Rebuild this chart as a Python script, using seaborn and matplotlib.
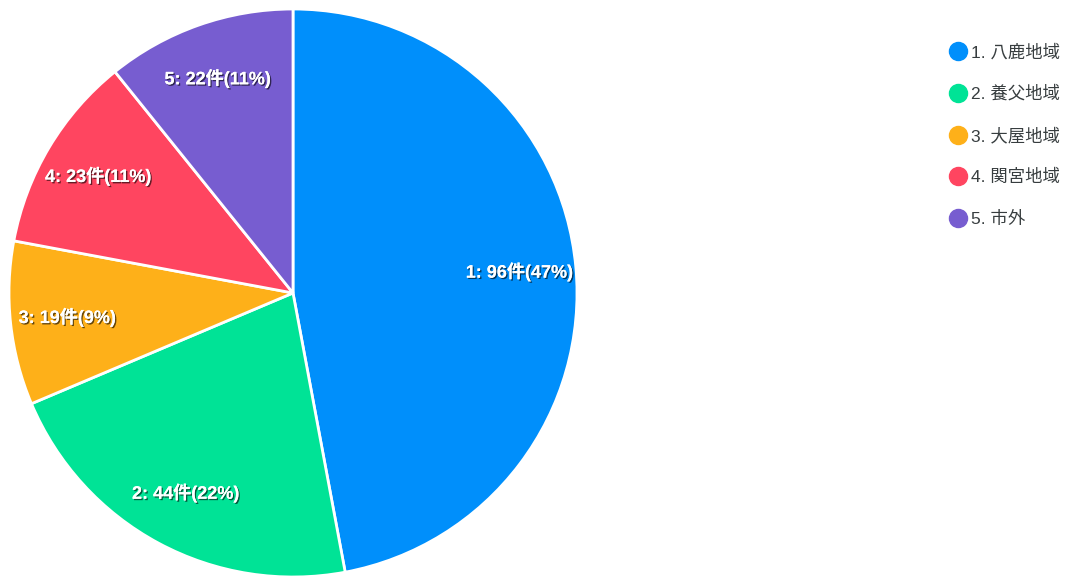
import matplotlib
matplotlib.use("Agg")
import matplotlib.pyplot as plt
import matplotlib.patheffects as pe
from matplotlib.lines import Line2D
import seaborn as sns

categories = ["1. 八鹿地域", "2. 養父地域", "3. 大屋地域", "4. 関宮地域", "5. 市外"]
counts = [96, 44, 19, 23, 22]
colors = ["#008FFB", "#00E396", "#FEB019", "#FF4560", "#775DD0"]

sns.set_theme(style="white")
plt.rcParams['font.family'] = ['Liberation Sans', 'Noto Sans CJK JP', 'DejaVu Sans']

total = sum(counts)
slice_labels = [f"{i + 1}: {c}件({round(c / total * 100)}%)" for i, c in enumerate(counts)]

fig = plt.figure(figsize=(10.74, 5.76), dpi=100)
ax = fig.add_axes([9 / 1074, -1 / 576, 568 / 1074, 568 / 576])

wedges, texts = ax.pie(counts, colors=sns.color_palette(colors), startangle=90,
                       counterclock=False, labels=slice_labels, labeldistance=0.80,
                       wedgeprops=dict(edgecolor="white", linewidth=2))
for t in texts:
    t.set_ha("center")
    t.set_va("center")
    t.set_color("white")
    t.set_fontsize(13)
    t.set_fontweight("bold")
    t.set_path_effects([pe.withSimplePatchShadow(offset=(1, -1), shadow_rgbFace="black", alpha=0.6),
                        pe.Normal()])
ax.set_xlim(-1.0, 1.0)
ax.set_ylim(-1.0, 1.0)
ax.set_aspect("equal")
ax.axis("off")

handles = [Line2D([0], [0], marker="o", linestyle="", markersize=13,
                  markerfacecolor=c, markeredgecolor=c) for c in colors]
fig.legend(handles, categories, loc="upper left", bbox_to_anchor=(932 / 1074, 1 - 28 / 576),
           frameon=False, fontsize=12.5, labelcolor="#373d3f", handletextpad=0.15,
           labelspacing=1.45, handlelength=1.2)

fig.savefig("out.png", dpi=100)
